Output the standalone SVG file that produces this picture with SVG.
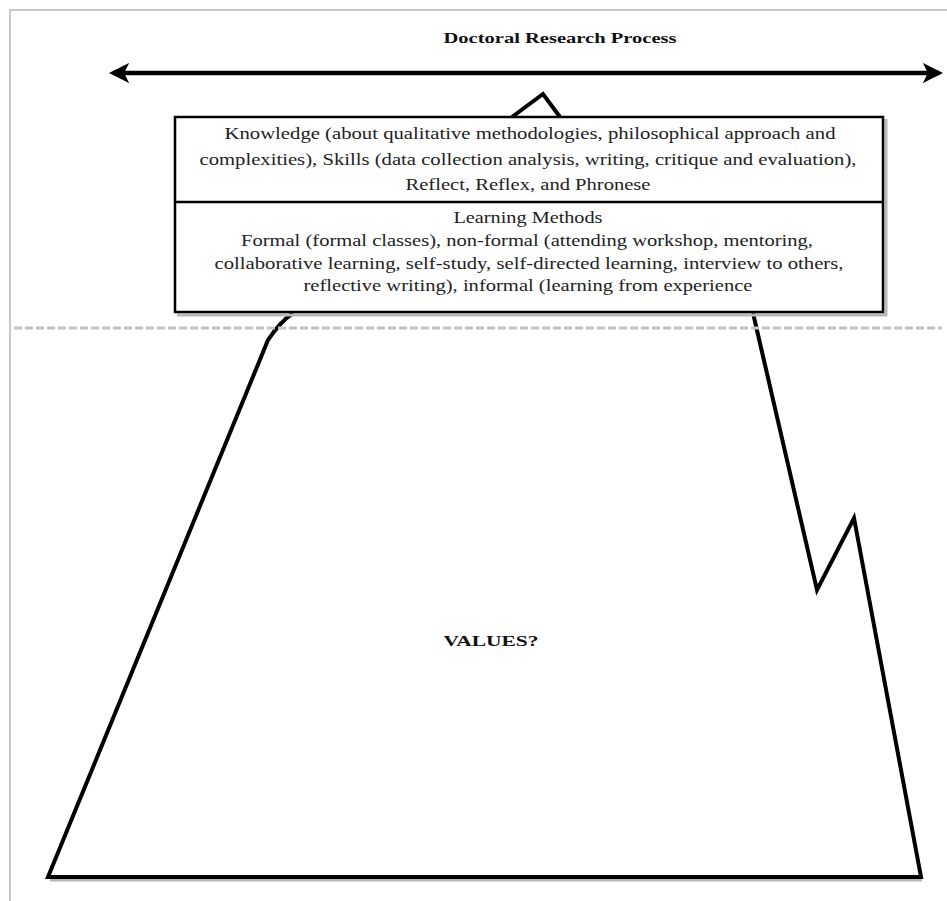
<svg xmlns="http://www.w3.org/2000/svg" width="947" height="901" viewBox="0 0 947 901">
  <style>
    .page { fill: none; stroke: #c8c8c8; stroke-width: 2; }
    .title { font-family: "Liberation Serif", "Times New Roman", serif; font-weight: bold; font-size: 15px; fill: #111; text-anchor: middle; }
    .body { font-family: "Liberation Serif", "Times New Roman", serif; font-size: 17px; fill: #222; text-anchor: middle; }
    .ink { fill: none; stroke: #000; stroke-width: 4; stroke-linejoin: miter; }
    .shadow { fill: none; stroke: #b8b8b8; stroke-width: 3; }
    .box { fill: #fff; stroke: #000; stroke-width: 2.5; }
    .waterline { stroke: #c4c4c4; stroke-width: 3; stroke-dasharray: 8 3; }
  </style>
  <defs>
    <marker id="head" viewBox="0 0 10 10" refX="8" refY="5" markerWidth="4.5" markerHeight="4.5" orient="auto-start-reverse" markerUnits="strokeWidth">
      <path d="M0,0 L10,5 L0,10 L2.5,5 Z" fill="#000"/>
    </marker>
  </defs>

  <rect width="947" height="901" fill="#fff"/>
  <path class="page" d="M10,901 V10 H947"/>

  <!-- title and timeline arrow -->
  <g id="title">
    <text class="title" x="560" y="43" textLength="233" lengthAdjust="spacingAndGlyphs">Doctoral Research Process</text>
  </g>
  <g id="connectors">
    <line x1="113" y1="73" x2="939" y2="73" stroke="#000" stroke-width="4.5" marker-start="url(#head)" marker-end="url(#head)"/>
  </g>

  <!-- mountain outline -->
  <g id="mountain">
    <path class="ink" d="M512,117 L543,94 L560,117"/>
    <path class="shadow" d="M50,880 L922,880"/>
    <path class="ink" d="M293,313 Q280,322 268,340 L48,877 L921,877 L854,518 L817,590 L753,313"/>
  </g>

  <line class="waterline" x1="14" y1="328" x2="942" y2="328"/>

  <!-- skills / learning methods box -->
  <g id="skills-box">
    <path class="shadow" d="M177,315 H886 V119"/>
    <rect class="box" x="175" y="117" width="708" height="195"/>
    <line x1="175" y1="202" x2="883" y2="202" stroke="#000" stroke-width="2.5"/>
    <text class="body" x="530" y="139" textLength="611" lengthAdjust="spacingAndGlyphs">Knowledge (about qualitative methodologies, philosophical approach and</text>
    <text class="body" x="528" y="165" textLength="657" lengthAdjust="spacingAndGlyphs">complexities), Skills (data collection analysis, writing, critique and evaluation),</text>
    <text class="body" x="528" y="190" textLength="245" lengthAdjust="spacingAndGlyphs">Reflect, Reflex, and Phronese</text>
    <text class="body" x="528" y="223" textLength="149" lengthAdjust="spacingAndGlyphs">Learning Methods</text>
    <text class="body" x="527" y="246" textLength="572" lengthAdjust="spacingAndGlyphs">Formal (formal classes), non-formal (attending workshop, mentoring,</text>
    <text class="body" x="529" y="269" textLength="629" lengthAdjust="spacingAndGlyphs">collaborative learning, self-study, self-directed learning, interview to others,</text>
    <text class="body" x="528" y="291" textLength="449" lengthAdjust="spacingAndGlyphs">reflective writing), informal (learning from experience</text>
  </g>

  <g id="values">
    <text class="title" x="491" y="646" textLength="95" lengthAdjust="spacingAndGlyphs">VALUES?</text>
  </g>
</svg>
